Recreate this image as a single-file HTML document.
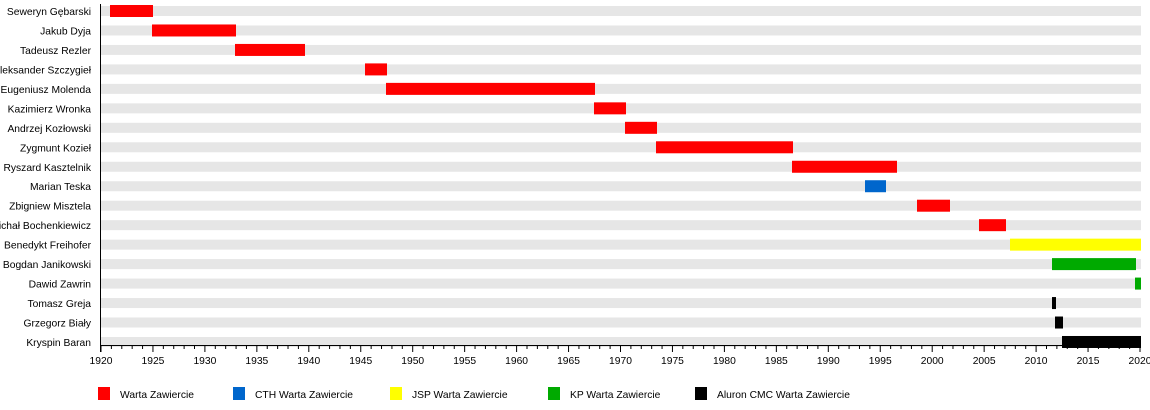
<!DOCTYPE html>
<html><head><meta charset="utf-8"><style>
body{margin:0;background:#fff;width:1150px;height:405px;overflow:hidden}
svg text{font-family:"Liberation Sans",sans-serif;font-size:10.3px;fill:#000}
</style></head><body>
<svg width="1150" height="405" xmlns="http://www.w3.org/2000/svg">
<g id="rows"></g>
<line x1="100.5" y1="4" x2="100.5" y2="352" stroke="#000"/>
<line x1="100" y1="345.5" x2="1141" y2="345.5" stroke="#000"/>
<g id="ticks" stroke="#000"></g>
<g id="lab"></g>
<g>
<rect x="98" y="387" width="12" height="13" fill="#ff0000"/><text x="120" y="398">Warta Zawiercie</text>
<rect x="233" y="387" width="12" height="13" fill="#0066cc"/><text x="255" y="398">CTH Warta Zawiercie</text>
<rect x="390" y="387" width="12" height="13" fill="#ffff00"/><text x="412" y="398">JSP Warta Zawiercie</text>
<rect x="548" y="387" width="12" height="13" fill="#00aa00"/><text x="570" y="398">KP Warta Zawiercie</text>
<rect x="695" y="387" width="12" height="13" fill="#000"/><text x="717" y="398">Aluron CMC Warta Zawiercie</text>
</g>
</svg>
<script>
const names=["Seweryn Gębarski","Jakub Dyja","Tadeusz Rezler","Aleksander Szczygieł","Eugeniusz Molenda","Kazimierz Wronka","Andrzej Kozłowski","Zygmunt Kozieł","Ryszard Kasztelnik","Marian Teska","Zbigniew Misztela","Michał Bochenkiewicz","Benedykt Freihofer","Bogdan Janikowski","Dawid Zawrin","Tomasz Greja","Grzegorz Biały","Kryspin Baran"];
const bars=[[110,153,"#f00"],[152,236,"#f00"],[235,305,"#f00"],[365,387,"#f00"],[386,595,"#f00"],[594,626,"#f00"],[625,657,"#f00"],[656,793,"#f00"],[792,897,"#f00"],[865,886,"#0066cc"],[917,950,"#f00"],[979,1006,"#f00"],[1010,1141,"#ff0"],[1052,1136,"#00aa00"],[1135,1141,"#00aa00"],[1052,1056,"#000"],[1055,1063,"#000"],[1062,1141,"#000"]];
const ns="http://www.w3.org/2000/svg";
const R=document.getElementById("rows");
function el(t,a,p){const e=document.createElementNS(ns,t);for(const k in a)e.setAttribute(k,a[k]);p.appendChild(e);return e;}
names.forEach((n,i)=>{const c=11+19.47*i;
el("rect",{x:101,y:c-5,width:1040,height:10,fill:"#e6e6e6"},R);
const b=bars[i];el("rect",{x:b[0],y:c-6,width:b[1]-b[0],height:12,fill:b[2]},R);
const t=el("text",{x:91,y:c+4,"text-anchor":"end"},R);t.textContent=n;});
const T=document.getElementById("ticks"),L=document.getElementById("lab");
for(let y=1920;y<=2020;y++){const x=101+(y-1920)*10.39;
el("line",{x1:x,y1:345,x2:x,y2:y%5==0?352:349},T);
if(y%5==0){const t=el("text",{x:x,y:364,"text-anchor":"middle"},L);t.textContent=y;}}
</script>
</body></html>
